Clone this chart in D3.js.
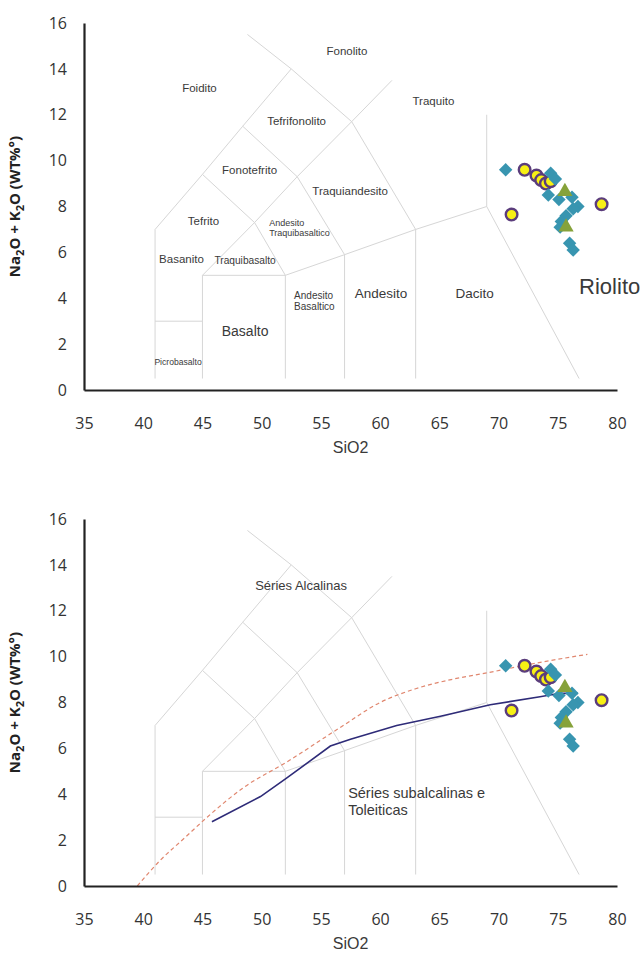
<!DOCTYPE html>
<html>
<head>
<meta charset="utf-8">
<script src="https://cdn.jsdelivr.net/npm/d3@7"></script>
<style>
  body { margin: 0; background: #fff; }
  .tick text { font-family: "Open Sans", sans-serif; font-size: 16px; fill: #333; }
  .lbl { font-family: "Liberation Sans", Arial, sans-serif; fill: #3a3a3a; }
</style>
</head>
<body>
<div id="chart"></div>
<script>
// ---- data ----
var xTicks = [35, 40, 45, 50, 55, 60, 65, 70, 75, 80];
var yTicks = [0, 2, 4, 6, 8, 10, 12, 14, 16];

// samples (SiO2, Na2O+K2O)
var diamonds = [
  [70.6, 9.6], [74.4, 9.45], [74.8, 9.2], [74.2, 8.5], [75.1, 8.3],
  [76.2, 8.4], [76.7, 8.0], [76.3, 7.9], [75.7, 7.6], [75.3, 7.35],
  [75.2, 7.1], [76.0, 6.4], [76.3, 6.1]
];
var circles = [
  [72.2, 9.6], [73.2, 9.35], [73.6, 9.15], [74.0, 9.0], [74.4, 9.1],
  [71.1, 7.65], [78.7, 8.1]
];
var triangles = [[75.6, 8.65], [75.7, 7.1]];

// TAS field boundaries (Le Bas et al.)
var tasLines = [
  [[41, 0.5], [41, 7], [45, 9.4], [48.4, 11.5], [52.5, 14], [48.8, 15.5]],
  [[41, 3], [45, 3]],
  [[45, 0.5], [45, 5], [52, 5], [52, 0.5]],
  [[52, 5], [57, 5.9], [63, 7], [69, 8], [76.8, 0.5]],
  [[57, 0.5], [57, 5.9]],
  [[63, 0.5], [63, 7]],
  [[45, 5], [49.4, 7.3], [52, 5]],
  [[45, 9.4], [49.4, 7.3], [53, 9.3], [57, 5.9]],
  [[48.4, 11.5], [53, 9.3], [57.6, 11.7], [63, 7]],
  [[52.5, 14], [57.6, 11.7], [61, 13.5]],
  [[69, 8], [69, 12]]
];

// field names: text, x, y, size, anchor
var tasNames = [
  ["Fonolito", 57.2, 14.8, 11.5, "middle"],
  ["Foidito", 44.75, 13.15, 11.5, "middle"],
  ["Traquito", 64.5, 12.58, 11.5, "middle"],
  ["Tefrifonolito", 52.95, 11.71, 11.5, "middle"],
  ["Fonotefrito", 48.98, 9.58, 11.5, "middle"],
  ["Traquiandesito", 57.47, 8.66, 11.5, "middle"],
  ["Tefrito", 45.09, 7.35, 11.5, "middle"],
  ["Andesito", 50.63, 7.27, 9, "start"],
  ["Traquibasaltico", 50.63, 6.87, 9, "start"],
  ["Basanito", 43.23, 5.73, 11.5, "middle"],
  ["Traquibasalto", 48.6, 5.65, 10.2, "middle"],
  ["Andesito", 52.74, 4.12, 10, "start"],
  ["Basaltico", 52.74, 3.64, 10, "start"],
  ["Andesito", 60.08, 4.21, 13.5, "middle"],
  ["Basalto", 48.6, 2.55, 14, "middle"],
  ["Picrobasalto", 42.94, 1.24, 8.6, "middle"],
  ["Dacito", 67.98, 4.21, 13.5, "middle"],
  ["Riolito", 76.8, 4.51, 22, "start"]
];

var seriesNames = [
  ["Séries Alcalinas", 53.33, 13.12, 13, "middle"],
  ["Séries subalcalinas e", 57.3, 4.05, 14.5, "start"],
  ["Toleiticas", 57.3, 3.31, 14.5, "start"]
];

// alkaline / subalkaline divides
var dashedDivide = [
  [39.5, 0], [41.4, 1.1], [43.5, 2.1], [45.4, 3.0], [48.5, 4.3], [52.1, 5.4],
  [56.6, 6.9], [60, 8.0], [63, 8.6], [66, 9.0], [69.1, 9.3], [73, 9.7], [77.5, 10.1]
];
var solidDivide = [
  [45.8, 2.8], [49.9, 3.9], [52.1, 4.7], [55.8, 6.1], [57.5, 6.4], [61.4, 7.0],
  [65.1, 7.4], [69.3, 7.9], [73.5, 8.25], [75.2, 8.4], [76.7, 8.4]
];

// ---- layout ----
var W = 644, H = 955;
var margin = {left: 84},
    width = 533,
    height = 367;
var tops = [23, 519];

var svg = d3.select("#chart").append("svg")
  .attr("width", W)
  .attr("height", H);

var x = d3.scaleLinear().domain([35, 80]).range([0, width]);
var y = d3.scaleLinear().domain([0, 16]).range([height, 0]);

var line = d3.line()
  .x(function(d) { return x(d[0]); })
  .y(function(d) { return y(d[1]); });

function drawPanel(top, bottomPanel) {
  var g = svg.append("g")
    .attr("transform", "translate(" + margin.left + "," + top + ")");

  // TAS grid
  g.append("g").selectAll("path")
    .data(tasLines)
    .enter().append("path")
      .attr("d", line)
      .attr("fill", "none")
      .attr("stroke", "#d6d6d6")
      .attr("stroke-width", 1);

  if (!bottomPanel) {
    g.append("g").selectAll("text")
      .data(tasNames)
      .enter().append("text")
        .attr("class", "lbl")
        .attr("x", function(d) { return x(d[1]); })
        .attr("y", function(d) { return y(d[2]); })
        .attr("dy", "0.35em")
        .attr("font-size", function(d) { return d[3] + "px"; })
        .attr("text-anchor", function(d) { return d[4]; })
        .text(function(d) { return d[0]; });
  } else {
    g.append("g").selectAll("text")
      .data(seriesNames)
      .enter().append("text")
        .attr("class", "lbl")
        .attr("x", function(d) { return x(d[1]); })
        .attr("y", function(d) { return y(d[2]); })
        .attr("dy", "0.35em")
        .attr("font-size", function(d) { return d[3] + "px"; })
        .attr("text-anchor", function(d) { return d[4]; })
        .text(function(d) { return d[0]; });

    g.append("path")
      .datum(dashedDivide)
      .attr("d", line.curve(d3.curveMonotoneX))
      .attr("fill", "none")
      .attr("stroke", "#e0876f")
      .attr("stroke-width", 1.2)
      .attr("stroke-dasharray", "4,3");

    g.append("path")
      .datum(solidDivide)
      .attr("d", line.curve(d3.curveLinear))
      .attr("fill", "none")
      .attr("stroke", "#2e2b78")
      .attr("stroke-width", 1.6);
  }

  // samples
  g.append("g").selectAll("circle")
    .data(circles)
    .enter().append("circle")
      .attr("cx", function(d) { return x(d[0]); })
      .attr("cy", function(d) { return y(d[1]); })
      .attr("r", 5.8)
      .attr("fill", "#f7f014")
      .attr("stroke", "#5b3d7c")
      .attr("stroke-width", 2.4);

  g.append("g").selectAll("path")
    .data(diamonds)
    .enter().append("path")
      .attr("d", d3.symbol().type(d3.symbolDiamond2).size(115))
      .attr("transform", function(d) { return "translate(" + x(d[0]) + "," + y(d[1]) + ")"; })
      .attr("fill", "#3895b0");

  g.append("g").selectAll("path")
    .data(triangles)
    .enter().append("path")
      .attr("d", d3.symbol().type(d3.symbolTriangle).size(100))
      .attr("transform", function(d) { return "translate(" + x(d[0]) + "," + y(d[1]) + ")"; })
      .attr("fill", "#86a23a");

  // axes
  g.append("g")
    .call(d3.axisLeft(y).tickValues(yTicks).tickSize(0).tickPadding(17));
  g.append("g")
    .attr("transform", "translate(0," + height + ")")
    .call(d3.axisBottom(x).tickValues(xTicks).tickSize(0).tickPadding(28));
  g.selectAll(".domain")
    .attr("stroke", "#222")
    .attr("stroke-width", 2.2);

  g.append("text")
    .attr("class", "lbl")
    .attr("x", width / 2)
    .attr("y", height + 63)
    .attr("text-anchor", "middle")
    .attr("font-size", "16px")
    .attr("fill", "#333")
    .text("SiO2");

  var t = g.append("text")
    .attr("transform", "translate(-64," + (height / 2) + ") rotate(-90)")
    .attr("text-anchor", "middle")
    .attr("font-family", "'Open Sans', sans-serif")
    .attr("font-weight", "bold")
    .attr("font-size", "15px")
    .attr("fill", "#222");
  t.append("tspan").text("Na");
  t.append("tspan").attr("dy", 4).attr("font-size", "11px").text("2");
  t.append("tspan").attr("dy", -4).text("O + K");
  t.append("tspan").attr("dy", 4).attr("font-size", "11px").text("2");
  t.append("tspan").attr("dy", -4).text("O (WT%°)");
}

drawPanel(tops[0], false);
drawPanel(tops[1], true);
</script>
</body>
</html>
